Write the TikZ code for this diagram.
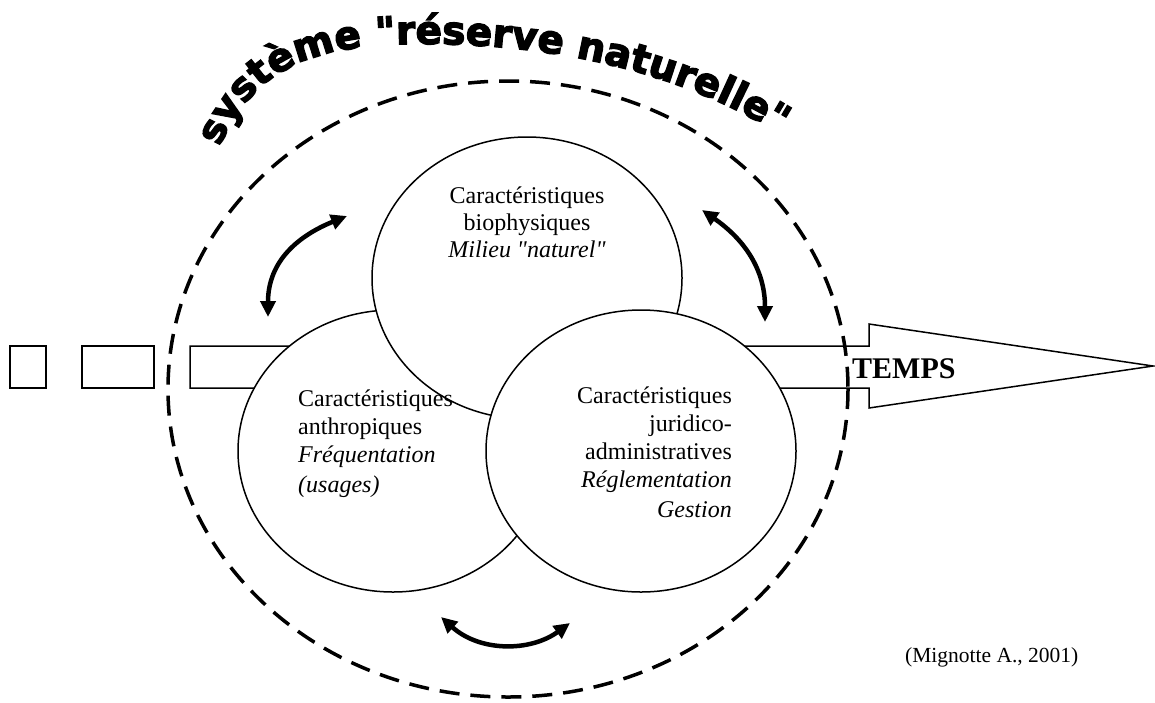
\documentclass[tikz,border=0pt]{standalone}
\usepackage{fontspec}
\setmainfont{Liberation Serif}
\newfontfamily\bodyfont{Liberation Serif}
\newfontfamily\titlefont[FakeBold=3.5]{DejaVu Sans}
\usetikzlibrary{shapes.geometric,arrows.meta,decorations.text}
\begin{document}
\begin{tikzpicture}[x=1pt,y=-1pt,
  circ/.style={ellipse, draw, line width=1.5pt, fill=white, minimum width=310pt, minimum height=282pt, inner sep=0pt},
  body/.style={font=\bodyfont\fontsize{24}{28}\selectfont, inner sep=0pt},
  dbl/.style={line width=4.5pt, {Triangle[length=16pt,width=15pt]}-{Triangle[length=16pt,width=15pt]}},
  bandst/.style={draw, line width=1.5pt, fill=white},
  boxst/.style={draw, line width=1.5pt, inner sep=0pt, minimum height=42pt},
  sysdash/.style={line width=3.5pt, dash pattern=on 20pt off 11pt}
]
\useasboundingbox (0,0) rectangle (1155,702);
% time band and arrow
\draw[bandst] (190,346) -- (869,346) -- (869,324) -- (1153,366) -- (869,408) -- (869,388) -- (190,388) -- cycle;
\node[boxst, minimum width=36pt] (b1) at (28,367) {};
\node[boxst, minimum width=72pt] (b2) at (118,367) {};
% circles
\node[circ] (cleft) at (393,451) {};
\node[circ] (ctop) at (527,278) {};
\node[circ] (cright) at (641,451) {};
% texts (anchor base = baseline of last line)
\node[body, font=\bodyfont\fontsize{24}{27}\selectfont, align=center, anchor=base] (ttop) at (527,257) {Caractéristiques\\biophysiques\\\textit{Milieu "naturel"}};
\node[body, align=left, anchor=base west] (tleft) at (298,492) {Caractéristiques\\anthropiques\\\textit{Fréquentation}\\[2pt]\textit{(usages)}};
\node[body, align=right, anchor=base east] (tright) at (732,517) {Caractéristiques\\juridico-\\administratives\\\textit{Réglementation}\\[2pt]\textit{Gestion}};
\node[font=\bodyfont\bfseries\fontsize{30}{30}\selectfont, anchor=base west, inner sep=0pt] (temps) at (852,378) {TEMPS};
\node[font=\bodyfont\fontsize{21.5}{24}\selectfont, anchor=base west, inner sep=0pt] (cite) at (905,662) {(Mignotte A., 2001)};
% system boundary
\draw[sysdash] (508,389) ellipse [x radius=340, y radius=308];
% interaction arrows
\coordinate (a1s) at (268,317); \coordinate (a1e) at (347,216);
\coordinate (a2s) at (702,210); \coordinate (a2e) at (765,322);
\coordinate (a3s) at (441,617); \coordinate (a3e) at (570,623);
\draw[dbl] (a1s) .. controls (268,260) and (300,235) .. (a1e);
\draw[dbl] (a2s) .. controls (745,240) and (765,270) .. (a2e);
\draw[dbl] (a3s) .. controls (480,652) and (530,652) .. (a3e);
% title
\path[decorate, decoration={text along path, text align=center,
  text={|\titlefont\bfseries\fontsize{39}{39}\selectfont|système "réserve naturelle"}}]
  (214,160) .. controls (245,80) and (295,46) .. (410,44) .. controls (560,42) and (690,75) .. (792,142);
\end{tikzpicture}
\end{document}
